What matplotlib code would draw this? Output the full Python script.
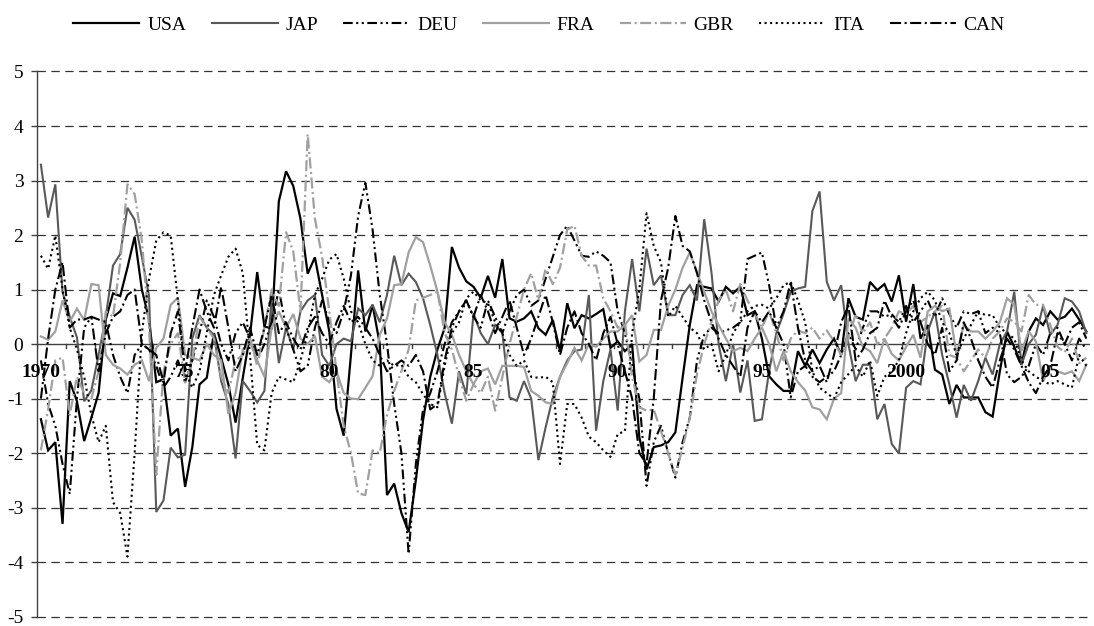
import matplotlib
matplotlib.use("Agg")
import matplotlib.pyplot as plt
import numpy as np

plt.rcParams['font.family'] = ['Liberation Serif', 'DejaVu Serif']
plt.rcParams['lines.scale_dashes'] = False

# Quarterly data 1970Q1 - 2006Q2
usa = [-1.38, -1.95, -1.80, -3.30, -0.68, -1.05, -1.78, -1.35, -0.90, 0.45, 0.93, 0.88,
       1.40, 1.97, 1.00, 0.45, -0.70, -0.65, -1.68, -1.55, -2.62, -1.89, -0.74, -0.62,
       0.20, -0.25, -0.74, -1.44, -0.62, 0.17, 1.32, 0.32, 0.29, 2.62, 3.17, 2.90,
       2.30, 1.29, 1.59, 0.90, 0.23, -1.19, -1.68, -0.20, 1.35, 0.23, 0.72, 0.00,
       -2.77, -2.56, -3.10, -3.45, -2.50, -1.40, -0.60, -0.10, 0.30, 1.78, 1.40, 1.15,
       1.05, 0.85, 1.25, 0.85, 1.56, 0.47, 0.41, 0.47, 0.60, 0.29, 0.17, 0.44,
       -0.13, 0.75, 0.29, 0.53, 0.47, 0.55, 0.64, -0.07, 0.05, -0.13, 0.00, -1.71,
       -2.30, -1.89, -1.86, -1.80, -1.62, -0.62, 0.35, 1.08, 1.05, 1.02, 0.78, 1.05,
       0.93, 1.05, 0.53, 0.60, 0.10, -0.59, -0.74, -0.86, -0.86, -0.13, -0.40, -0.10,
       -0.35, -0.10, 0.10, -0.20, 0.84, 0.50, 0.45, 1.14, 0.99, 1.10, 0.78, 1.26,
       0.41, 1.10, 0.10, 0.35, -0.47, -0.56, -1.10, -0.75, -0.98, -0.98, -0.98, -1.25,
       -1.33, -0.50, 0.23, -0.05, -0.38, 0.23, 0.47, 0.35, 0.60, 0.45, 0.50, 0.65,
       0.45, 0.23]
jap = [3.29, 2.32, 2.93, 0.95, 0.50, 0.12, -1.05, -0.85, -0.20, 0.50, 1.44, 1.65,
       2.50, 2.28, 1.60, 0.88, -3.08, -2.87, -1.90, -2.08, -2.03, 0.10, 0.53, 0.30,
       0.17, -0.68, -1.10, -2.10, -0.68, -0.86, -1.07, -0.86, 0.85, -0.35, 0.30, -0.10,
       0.60, 0.80, 0.90, -0.20, -0.40, 0.00, 0.10, 0.05, 0.65, 0.53, 0.72, 0.40,
       0.90, 1.62, 1.08, 1.29, 1.14, 0.84, 0.35, -0.20, -0.90, -1.46, -0.50, -0.92,
       0.56, 0.20, 0.00, 0.35, 0.20, -0.98, -1.04, -0.68, -1.00, -2.13, -1.53, -0.98,
       -0.60, -0.30, -0.13, -0.10, 0.90, -1.59, -0.68, -0.10, -1.22, 0.60, 1.56, 0.60,
       1.75, 1.08, 1.26, 0.53, 0.53, 0.90, 1.08, 0.80, 2.29, 1.32, 0.00, -0.68,
       0.00, -0.89, -0.30, -1.41, -1.38, -0.50, 0.20, 0.56, 0.96, 1.02, 1.05, 2.44,
       2.80, 1.14, 0.80, 1.08, 0.00, -0.68, -0.38, -0.38, -1.38, -1.10, -1.83, -2.01,
       -0.80, -0.68, -0.74, 0.23, 0.60, -0.20, -0.74, -1.35, -0.75, -1.04, -0.68, -0.25,
       -0.56, 0.00, 0.23, 0.96, -0.38, 0.00, 0.17, 0.70, 0.17, 0.35, 0.84, 0.78,
       0.60, 0.20]
deu = [-0.30, -1.10, -1.50, -2.20, -2.75, -1.00, 0.30, 0.50, 0.45, 0.40, -0.20, -0.60,
       -0.90, -0.20, 0.00, -0.10, -0.40, -0.80, -0.60, -0.30, -0.70, -0.30, 0.20, 0.80,
       0.50, 0.00, -0.30, 0.20, 0.40, 0.10, -0.30, 0.00, 0.40, 1.00, 0.30, -0.10,
       -0.50, -0.40, 0.30, 0.80, 0.40, 0.20, 0.60, 1.26, 2.35, 2.96, 2.10, 0.90,
       0.00, -1.10, -2.00, -3.85, -2.20, -1.20, -0.90, -0.50, 0.00, 0.40, 0.60, 0.80,
       0.50, 0.30, 0.80, 0.50, 0.20, 0.60, 0.90, 1.00, 0.70, 0.80, 1.20, 1.60,
       2.00, 2.17, 1.90, 1.62, 1.60, 1.70, 1.62, 1.50, 0.60, 0.20, -0.40, -1.00,
       -2.60, -1.80, -1.50, -2.00, -2.45, -1.80, -1.35, -0.30, 0.17, 0.30, 0.20, 0.25,
       0.30, 0.40, 1.56, 1.62, 1.68, 1.08, 0.30, 0.00, -0.98, -0.50, -0.40, -0.60,
       -0.70, -0.60, -0.50, -0.20, 0.20, -0.10, 0.30, 0.60, 0.60, 0.50, 0.55, 0.40,
       0.70, 0.40, 0.60, 0.80, 0.50, 0.84, 0.55, 0.30, 0.60, 0.55, 0.60, 0.20,
       0.30, 0.20, -0.56, -0.70, -0.60, -0.40, 0.00, -0.20, 0.20, 0.30, 0.00, -0.30,
       0.10, -0.10]
fra = [0.14, 0.08, 0.23, 0.80, 0.41, 0.65, 0.44, 1.10, 1.08, -0.20, -0.38, -0.45,
       -0.56, -0.38, -0.30, -0.68, -0.07, 0.10, 0.72, 0.85, -0.20, -0.25, -0.30, 0.00,
       -0.20, -0.30, -1.28, -0.90, -0.10, 0.05, -0.30, -0.60, 0.30, 0.60, 0.30, 0.55,
       0.10, 0.00, 0.15, -0.60, -0.70, -0.50, -0.90, -1.00, -1.01, -0.80, -0.59, 0.17,
       0.47, 1.08, 1.10, 1.68, 1.96, 1.87, 1.44, 0.96, 0.40, 0.17, -0.20, -0.50,
       -0.74, -0.50, -0.45, -0.74, -0.40, -0.40, -0.40, -0.42, -0.86, -0.95, -1.07, -1.10,
       -0.60, -0.35, -0.07, -0.30, 0.00, -0.05, 0.10, 0.23, 0.23, 0.35, 0.53, -0.32,
       -0.20, 0.26, 0.26, 0.70, 1.00, 1.40, 1.68, 1.32, 0.96, 0.60, 0.35, 0.10,
       -0.13, -0.07, -0.13, 0.10, 0.30, 0.00, -0.50, -0.13, -0.50, -0.70, -0.85, -1.16,
       -1.20, -1.38, -1.00, -0.90, 0.47, 0.30, -0.05, -0.13, -0.35, 0.10, -0.18, -0.30,
       -0.05, 0.17, -0.25, 0.60, 0.70, 0.60, 0.65, -0.20, 0.35, 0.23, 0.23, 0.10,
       0.23, 0.40, 0.84, 0.72, -0.13, 0.23, 0.05, -0.68, -0.44, -0.50, -0.55, -0.50,
       -0.68, -0.38]
gbr = [-1.95, -1.20, -0.30, -0.25, -1.30, -0.60, -0.90, -1.00, -0.50, 0.60, 0.50, 1.50,
       2.93, 2.75, 1.90, 0.30, -2.40, -0.50, 0.00, 0.20, -0.70, -0.30, 0.50, 0.30,
       0.10, -0.60, -0.90, -0.30, -0.20, 0.10, -0.40, 0.30, 1.00, 0.70, 2.05, 1.70,
       0.60, 3.85, 2.30, 1.60, 0.60, -0.50, -1.50, -2.00, -2.74, -2.77, -1.95, -2.00,
       -1.30, -0.86, -0.50, -0.10, 0.80, 0.85, 0.90, 0.96, 0.20, -0.10, -0.60, -1.04,
       -0.74, -0.90, -0.60, -1.22, -0.60, 0.00, 0.50, 1.00, 1.30, 0.80, 1.38, 1.10,
       1.40, 2.10, 2.17, 1.62, 1.44, 1.44, 0.84, 0.60, 0.30, 0.40, -0.60, -1.16,
       -1.22, -1.20, -1.60, -2.00, -2.40, -1.90, -1.35, -0.55, 0.00, 0.40, 0.80, 1.00,
       0.60, 1.10, 0.80, 0.55, 0.30, 0.60, 0.20, -0.30, 0.10, 0.25, 0.20, 0.30,
       0.10, 0.25, 0.05, -0.20, 0.10, 0.55, 0.20, 0.40, 0.00, 0.10, 0.30, 0.60,
       0.55, 0.70, 0.40, 0.50, 0.60, 0.70, -0.20, -0.25, -0.50, -0.30, -0.10, -0.25,
       0.10, 0.23, 0.47, 0.41, 0.23, 0.90, 0.72, 0.72, 0.35, -0.05, -0.15, 0.10,
       -0.35, -0.25]
ita = [1.62, 1.38, 1.99, 1.00, 0.30, -0.10, -0.60, -1.30, -1.80, -1.50, -2.90, -3.10,
       -3.90, -2.00, 0.20, 1.20, 1.90, 2.05, 1.99, 0.80, -0.50, -0.80, -0.50, 0.20,
       0.90, 1.26, 1.60, 1.75, 1.30, -0.20, -1.85, -1.95, -0.90, -0.60, -0.65, -0.70,
       -0.30, 0.20, 0.90, 1.20, 1.55, 1.65, 1.20, 0.60, 0.40, 0.00, -0.30, -0.40,
       -0.30, -0.40, -0.38, -0.60, -0.70, -0.92, -1.10, -1.16, -0.40, 0.20, 0.40, 0.84,
       0.96, 0.80, 0.75, 0.40, 0.20, -0.20, -0.40, -0.30, -0.60, -0.62, -0.60, -0.70,
       -2.20, -1.10, -1.10, -1.35, -1.70, -1.80, -1.95, -2.07, -1.65, -1.60, 0.20, 1.00,
       2.40, 1.80, 1.50, 0.50, 0.70, 0.50, 0.30, 0.20, -0.10, 0.00, -0.50, -0.20,
       0.20, 0.40, 0.60, 0.70, 0.72, 0.65, 0.84, 1.08, 1.14, 0.80, 0.40, -0.50,
       -0.80, -0.90, -1.00, -0.70, -0.55, -0.40, -0.60, -0.30, -0.95, -0.60, -0.50, -0.30,
       0.20, 0.60, 0.84, 0.96, 0.80, 0.40, 0.20, -0.20, 0.10, 0.35, 0.60, 0.53,
       0.53, 0.30, 0.20, 0.10, -0.30, -0.50, -0.60, -0.68, -0.74, -0.68, -0.74, -0.80,
       -0.20, -0.40]
can = [-1.00, 0.10, 1.00, 1.50, 0.30, 0.45, 0.45, 0.50, -0.50, 0.20, 0.50, 0.60,
       0.90, 1.00, 0.00, -0.10, -0.20, -0.70, 0.20, 0.60, -0.50, 0.30, 1.00, 0.60,
       0.30, 1.05, 0.30, -0.50, -0.20, 0.30, -0.20, 0.30, 0.90, 0.20, 0.40, 0.10,
       -0.10, 0.30, 0.50, 0.20, 0.00, 0.40, 0.70, 0.40, 0.50, 0.30, 0.10, -0.20,
       -0.50, -0.40, -0.30, -0.40, -0.20, -0.50, -1.20, -1.10, -0.30, 0.30, 0.60, 0.80,
       0.50, 0.90, 0.60, 0.20, 0.50, 0.80, 0.30, -0.20, 0.10, 0.50, 0.90, 0.40,
       -0.20, 0.30, 0.60, 0.20, 0.00, -0.30, 0.20, 0.50, 0.00, -0.50, -1.00, -2.00,
       -2.20, -1.00, 0.80, 1.40, 2.35, 1.80, 1.70, 1.30, 0.80, 0.40, 0.10, -0.20,
       -0.40, -0.60, 0.30, 0.60, 0.40, 0.60, 0.30, 0.60, 1.14, 0.30, -0.30, -0.50,
       -0.40, -0.70, -0.20, 0.40, 0.70, -0.30, -0.10, 0.20, 0.30, 0.80, 0.50, 0.30,
       0.60, 0.80, 0.40, 0.00, -0.20, 0.30, -0.50, -0.30, 0.40, 0.10, -0.30, -0.60,
       -0.80, -0.30, 0.10, -0.10, -0.40, -0.70, -0.90, -0.60, -0.40, 0.20, 0.00, 0.30,
       0.40, 0.10]

series_names = ["USA", "JAP", "DEU", "FRA", "GBR", "ITA", "CAN"]
x_labels = ["1970", "75", "80", "85", "90", "95", "2000", "05"]
y_ticks = [5, 4, 3, 2, 1, 0, -1, -2, -3, -4, -5]

styles = {
    "USA": dict(color="black", lw=1.6, ls="-"),
    "JAP": dict(color="#595959", lw=1.5, ls="-"),
    "DEU": dict(color="black", lw=1.5, ls=(0, (7, 2.5, 1.5, 2.5, 1.5, 2.5))),
    "FRA": dict(color="#a0a0a0", lw=1.6, ls="-"),
    "GBR": dict(color="#a0a0a0", lw=1.6, ls=(0, (8, 2.5, 1.5, 2.5))),
    "ITA": dict(color="black", lw=1.5, ls=(0, (1.5, 2.5))),
    "CAN": dict(color="black", lw=1.5, ls=(0, (8, 2.5, 1.5, 2.5))),
}
data = {"USA": usa, "JAP": jap, "DEU": deu, "FRA": fra, "GBR": gbr, "ITA": ita, "CAN": can}

fig = plt.figure(figsize=(10.94, 6.26), dpi=100)
ax = fig.add_axes([0.0341, 0.0150, 0.9963 - 0.0341, 0.8858 - 0.0150])

n = len(usa)
x = np.arange(n)

# gridlines
for yv in y_ticks:
    if yv != 0:
        ax.axhline(yv, color="#333333", lw=0.9, ls=(0, (6, 4)), zorder=0,
                   clip_on=False)
ax.axhline(0, color="#404040", lw=1.0, zorder=1)

handles = []
for name in series_names:
    st = styles[name]
    h, = ax.plot(x, data[name], color=st["color"], lw=st["lw"], ls=st["ls"],
                 label=name, zorder=2, solid_joinstyle="miter")
    handles.append(h)

ax.set_xlim(-0.5, n - 0.5)
ax.set_ylim(-5, 5)
ax.set_yticks(y_ticks)
ax.set_yticklabels([str(v) for v in y_ticks])
ax.tick_params(axis="y", direction="out", length=4, width=1, color="#404040",
               labelsize=14, pad=6)

# x axis at zero
for s in ["top", "right", "bottom"]:
    ax.spines[s].set_visible(False)
ax.spines["left"].set_color("#404040")
ax.spines["left"].set_linewidth(1.0)
ax.set_xticks([])
for k in range(0, n + 1, 4):
    ax.plot([k - 0.5, k - 0.5], [0, -0.08], color="#404040", lw=1.0, zorder=1)

for j, lab in enumerate(x_labels):
    ax.text(j * 20, -0.53, lab, ha="center", va="center", fontsize=14,
            fontweight="bold", zorder=5)

fig.legend(handles=handles, labels=series_names, loc="center", ncol=7,
           bbox_to_anchor=(0.4927, 0.96), frameon=False, fontsize=14,
           handlelength=3.4, handletextpad=0.4, columnspacing=1.3)

fig.savefig("out.png", dpi=100)
